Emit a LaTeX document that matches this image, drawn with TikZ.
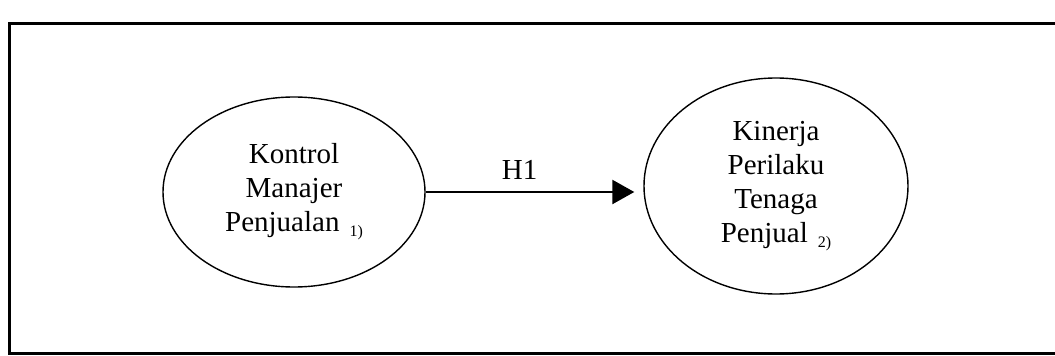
\documentclass[tikz,border=0pt]{standalone}
\usepackage{fontspec}
\setmainfont{Liberation Serif}
\usetikzlibrary{arrows.meta,shapes.geometric}
\tikzset{
  var/.style={draw, ellipse, line width=1.4pt, inner sep=0pt, align=center,
    font=\fontsize{29}{34}\selectfont},
  link/.style={line width=2.4pt, -{Triangle[length=22pt,width=24pt]}},
  frame/.style={line width=3pt}
}
\newcommand{\idxmark}[1]{\hspace{10pt}\raisebox{-5pt}{\fontsize{16}{16}\selectfont #1}}
\begin{document}
\begin{tikzpicture}[x=1pt,y=-1pt]
\useasboundingbox (0,0) rectangle (1055,356);
\draw[frame] (1060,23) -- (9,23) -- (9,353) -- (1060,353);
\node[var, minimum width=262pt, minimum height=190pt] (a) at (294,192)
  {Kontrol\\Manajer\\Penjualan\idxmark{1)}};
\node[var, minimum width=264pt, minimum height=216pt] (b) at (776,186)
  {Kinerja\\Perilaku\\Tenaga\\Penjual\idxmark{2)}};
\draw[link] (a.east) -- node[pos=0.45, above=8pt, font=\fontsize{29}{29}\selectfont] {H1} ([xshift=-9pt]b.west |- a.east);
\end{tikzpicture}
\end{document}
